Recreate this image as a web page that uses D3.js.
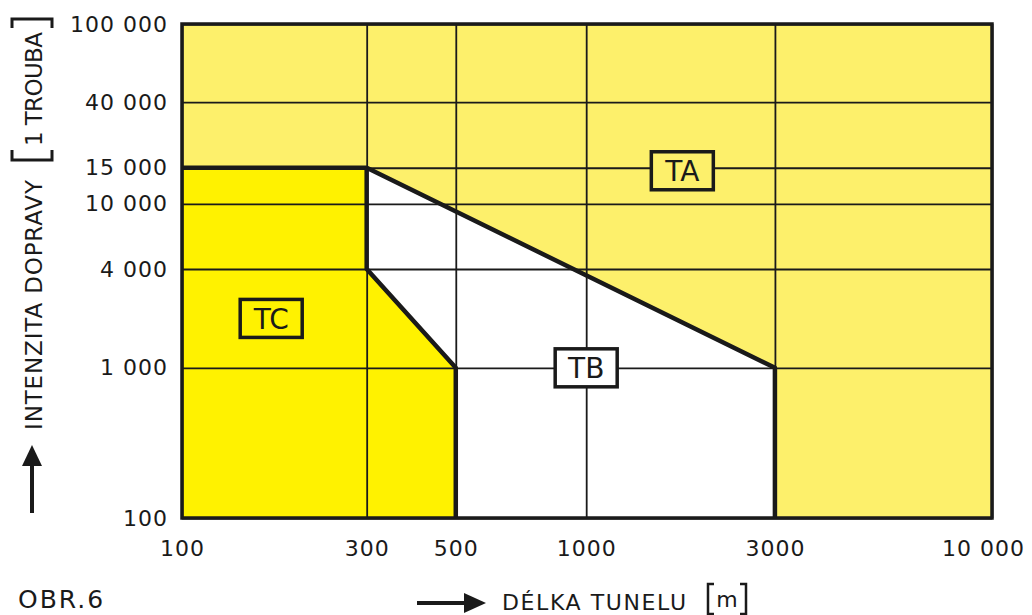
<!DOCTYPE html>
<html>
<head>
<meta charset="utf-8">
<script src="https://cdn.jsdelivr.net/npm/d3@7"></script>
<style>
  body { margin: 0; background: #fff; }
  text { font-family: "DejaVu Sans", sans-serif; fill: #1a1a1a; }
</style>
</head>
<body>
<div id="chart"></div>
<script>
// tick values and labels
const xTicks = [100, 300, 500, 1000, 3000, 10000];
const xTickLabels = ["100", "300", "500", "1000", "3000", "10 000"];
const yTicks = [100, 1000, 4000, 10000, 15000, 40000, 100000];
const yTickLabels = ["100", "1 000", "4 000", "10 000", "15 000", "40 000", "100 000"];

// zone borders (length m, traffic)
const tcZone = [[100, 100], [100, 15000], [300, 15000], [300, 4000], [500, 1000], [500, 100]];
const tbZone = [[300, 15000], [3000, 1000], [3000, 100], [500, 100], [500, 1000], [300, 4000]];
const upperBorder = [[100, 15000], [300, 15000], [3000, 1000], [3000, 100]];
const lowerBorder = [[300, 15000], [300, 4000], [500, 1000], [500, 100]];

// zone labels
const zoneNames = ["TA", "TB", "TC"];
const zoneX = [1750, 1000, 170];
const zoneY = [14500, 1000, 2000];

const W = 1032, H = 615;
const m = {t: 24, r: 40, b: 97, l: 182};
const iw = W - m.l - m.r, ih = H - m.t - m.b;

const paleYellow = "#fdf06b";
const brightYellow = "#fff200";
const ink = "#1a1a1a";

// the printed grid is not a true log grid, so the scale is piecewise
const xPos = [0, 0.228, 0.338, 0.499, 0.732, 1];
const yPos = [0, 0.304, 0.504, 0.636, 0.709, 0.842, 1];

const x = d3.scaleLog().domain(xTicks).range(xPos.map(f => f * iw));
const y = d3.scaleLog().domain(yTicks).range(yPos.map(f => ih - f * ih));

const svg = d3.select("#chart").append("svg")
  .attr("width", W).attr("height", H);

const g = svg.append("g").attr("transform", `translate(${m.l},${m.t})`);

g.append("rect")
  .attr("width", iw).attr("height", ih)
  .attr("fill", paleYellow);

const line = d3.line().x(d => x(d[0])).y(d => y(d[1]));

g.append("path").attr("d", line(tcZone) + "Z").attr("fill", brightYellow);
g.append("path").attr("d", line(tbZone) + "Z").attr("fill", "#fff");

// grid via axes
const xAxis = d3.axisBottom(x)
  .tickValues(xTicks)
  .tickFormat((d, i) => xTickLabels[i])
  .tickSize(-ih)
  .tickPadding(22);

const yAxis = d3.axisLeft(y)
  .tickValues(yTicks)
  .tickFormat((d, i) => yTickLabels[i])
  .tickSize(-iw)
  .tickPadding(14);

const gx = g.append("g").attr("transform", `translate(0,${ih})`).call(xAxis);
const gy = g.append("g").call(yAxis);

[gx, gy].forEach(a => {
  a.select(".domain").remove();
  a.selectAll(".tick line").attr("stroke", ink).attr("stroke-width", 1.8);
  a.selectAll(".tick text")
    .attr("fill", ink)
    .style("font-family", "DejaVu Sans, sans-serif")
    .style("font-size", "22px")
    .style("letter-spacing", "1px");
});
// keep the last x label inside the page
gx.selectAll(".tick text")
  .attr("dx", (d, i) => i === xTicks.length - 1 ? -9 : 0);

// zone borders
[upperBorder, lowerBorder].forEach(b => {
  g.append("path")
    .attr("d", line(b))
    .attr("fill", "none")
    .attr("stroke", ink)
    .attr("stroke-width", 4.5)
    .attr("stroke-linejoin", "round");
});

g.append("rect")
  .attr("width", iw).attr("height", ih)
  .attr("fill", "none")
  .attr("stroke", ink)
  .attr("stroke-width", 3.5);

// zone labels
const boxFill = {TA: paleYellow, TB: "#fff", TC: brightYellow};
const labels = g.selectAll(".zone")
  .data(zoneNames)
  .enter().append("g")
  .attr("class", "zone")
  .attr("transform", (d, i) => `translate(${x(zoneX[i])},${y(zoneY[i])})`);

labels.append("rect")
  .attr("x", -31).attr("y", -19)
  .attr("width", 62).attr("height", 38)
  .attr("fill", d => boxFill[d])
  .attr("stroke", ink)
  .attr("stroke-width", 3.5);

labels.append("text")
  .attr("text-anchor", "middle")
  .attr("dy", "0.36em")
  .style("font-size", "28px")
  .text(d => d);

// y title
const yt = svg.append("g").attr("transform", "translate(42,0) rotate(-90)");
yt.append("text")
  .attr("x", -430).attr("y", 0)
  .attr("textLength", 250)
  .style("font-size", "23px")
  .text("INTENZITA DOPRAVY");
yt.append("path")
  .attr("d", "M-150,-30 H-160 V10 H-150 M-28,-30 H-19 V10 H-28")
  .attr("fill", "none").attr("stroke", ink).attr("stroke-width", 3);
yt.append("text")
  .attr("x", -146).attr("y", 0)
  .attr("textLength", 114)
  .style("font-size", "23px")
  .text("1 TROUBA");

// y arrow
svg.append("line")
  .attr("x1", 32).attr("x2", 32).attr("y1", 513).attr("y2", 460)
  .attr("stroke", ink).attr("stroke-width", 4);
svg.append("path")
  .attr("d", "M32,445 L42,466 L22,466 Z")
  .attr("fill", ink);

// x title
svg.append("line")
  .attr("x1", 417).attr("x2", 470).attr("y1", 603).attr("y2", 603)
  .attr("stroke", ink).attr("stroke-width", 4);
svg.append("path")
  .attr("d", "M486,603 L464,593 L464,613 Z")
  .attr("fill", ink);
svg.append("text")
  .attr("x", 502).attr("y", 610)
  .attr("textLength", 184)
  .style("font-size", "22px")
  .text("DÉLKA TUNELU");
svg.append("path")
  .attr("d", "M714,584 H708 V614 H714 M740,584 H746 V614 H740")
  .attr("fill", "none").attr("stroke", ink).attr("stroke-width", 2.5);
svg.append("text")
  .attr("x", 727).attr("y", 607)
  .attr("text-anchor", "middle")
  .style("font-size", "22px")
  .text("m");

// figure number
svg.append("text")
  .attr("x", 18).attr("y", 608)
  .style("font-size", "25px")
  .style("letter-spacing", "2px")
  .text("OBR.6");
</script>
</body>
</html>
